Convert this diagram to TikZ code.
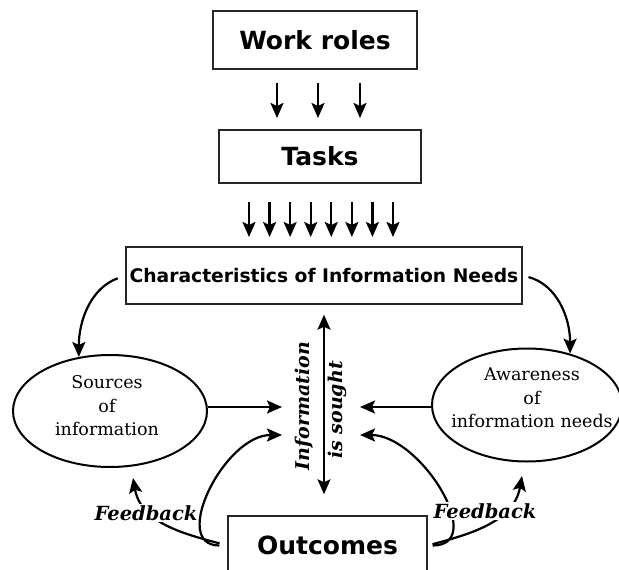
\documentclass[tikz,border=0pt]{standalone}
\usepackage{fontspec}
\setmainfont{DejaVu Serif}
\setsansfont{DejaVu Sans}
\usepackage{tikz}
\usetikzlibrary{arrows.meta}
\usetikzlibrary{positioning, shapes.geometric}
\tikzset{
stage/.style = { rectangle, draw = black!85, line width = 1.4pt, fill = white, inner sep = 0pt, font = \sffamily\bfseries\fontsize{25}{30}\selectfont },
pool/.style = { ellipse, draw = black, line width = 2pt, inner sep = 0pt },
pool text/.style = { align = center, inner sep = 0pt, font = \fontsize{17.5}{23.5}\selectfont },
loop label/.style = { fill = white, inner sep = 1pt, font = \bfseries\itshape\fontsize{19.5}{23}\selectfont },
push/.style = { -{Stealth[length=15pt, width=13pt, inset=3pt]}, line width = 2.2pt },
}

\begin{document}
\begin{tikzpicture}[x=1pt, y=-1pt]
    \useasboundingbox (0,0) rectangle (619,570);
    \begin{scope}[every node/.style={stage}]
      \node[minimum width=204pt, minimum height=58pt] (roles) at (315,40) {Work roles};
      \node[minimum width=202pt, minimum height=53pt] (tasks) at (320,156.5) {Tasks};
      \node[minimum width=396pt, minimum height=57pt, font=\sffamily\bfseries\fontsize{18.7}{22}\selectfont] (needs) at (324,275.5) {Characteristics of Information Needs};
      \node[minimum width=199pt, minimum height=59pt] (outcomes) at (327.5,545.5) {Outcomes};
    \end{scope}
    \node[pool, minimum width=194pt, minimum height=112pt] (sources) at (110,411) {};
    \node[pool text] (sourcesText) at (107,406) {Sources\\of\\information};
    \node[pool, minimum width=190pt, minimum height=113pt] (awareness) at (527,405) {};
    \node[pool text] (awarenessText) at (532,398) {Awareness\\of\\information needs};
    \coordinate (inL) at (282,407);
    \coordinate (inR) at (360,407);
    \coordinate (inL2) at (282,435);
    \coordinate (inR2) at (360,435);
    \coordinate (fbL) at (133,478);
    \coordinate (fbR) at (522,476);
    \begin{scope}[every path/.style={push}]
      \foreach \x [count=\i] in {277, 318, 360} {
        \coordinate (rt\i) at (\x,83);
        \coordinate (rb\i) at (\x,118);
        \draw (rt\i) -- (rb\i);
      }
      \foreach \i in {0,...,7} {
        \coordinate (tt\i) at (249+20.57*\i,202);
        \coordinate (tb\i) at (249+20.57*\i,237);
        \draw (tt\i) -- (tb\i);
      }
      \draw[shorten <=8pt] (needs.west) to[out=200, in=90] (sources.120);
      \draw[shorten <=6pt] (needs.east) to[out=-15, in=90] (awareness.50);
      \draw[{Stealth[length=15pt, width=13pt, inset=3pt]}-{Stealth[length=15pt, width=13pt, inset=3pt]}, shorten <=10pt, shorten >=21pt] (needs.south) -- (needs.south |- outcomes.north);
      \draw (sources.east |- inL) -- (inL);
      \draw (awareness.west |- inR) -- (inR);
      \draw[shorten <=8pt] (outcomes.west) to[out=180, in=180, looseness=1.2] (inL2);
      \draw[shorten <=8pt] (outcomes.west) to[out=165, in=-80] (fbL);
      \draw[shorten <=5pt] (outcomes.east) to[out=0, in=0, looseness=1.2] (inR2);
      \draw[shorten <=5pt] (outcomes.east) to[out=15, in=-100] (fbR);
    \end{scope}
    \node[loop label] (fbLeft) at (146,513) {Feedback};
    \node[loop label] (fbRight) at (485,511) {Feedback};
    \node[rotate=90, font=\bfseries\itshape\fontsize{19}{23}\selectfont] (infoA) at (304,406) {Information};
    \node[rotate=90, font=\bfseries\itshape\fontsize{19}{23}\selectfont] (infoB) at (337,410) {is sought};
\end{tikzpicture}
\end{document}
